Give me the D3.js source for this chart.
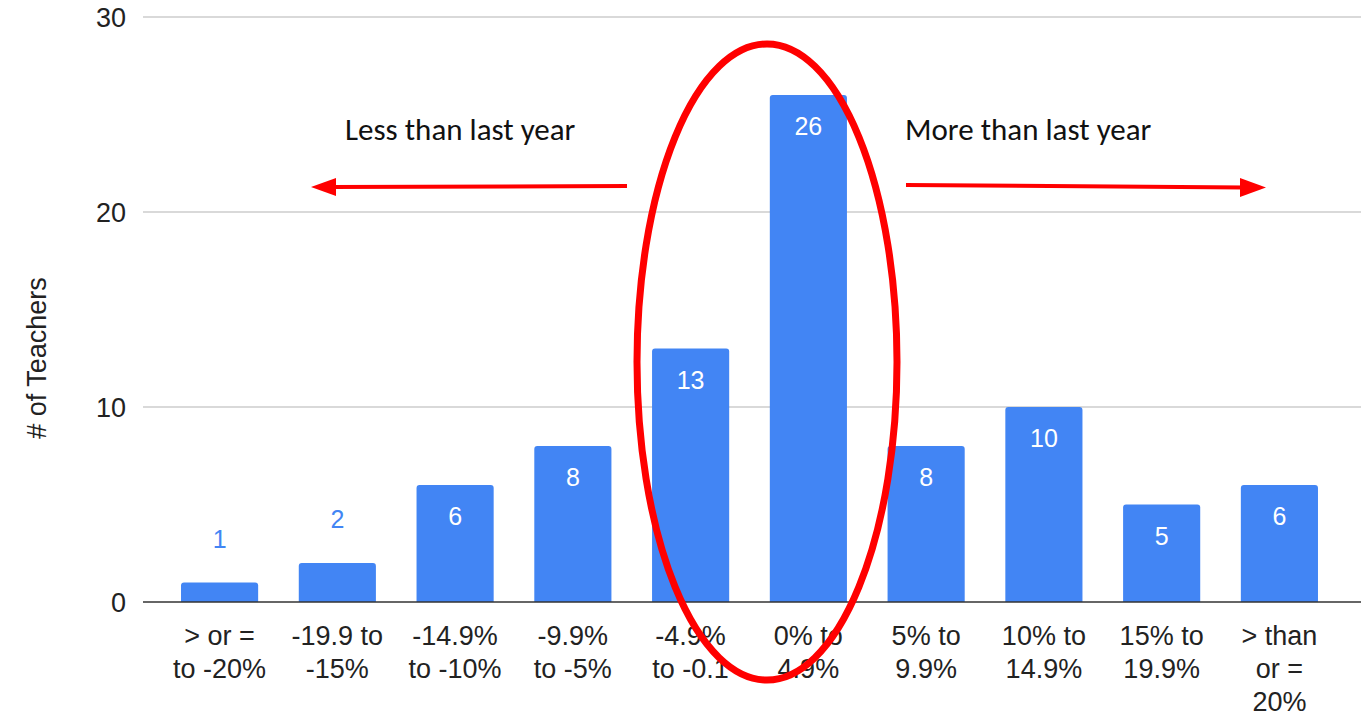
<!DOCTYPE html>
<html><head><meta charset="utf-8">
<script src="https://cdn.jsdelivr.net/npm/d3@7"></script>
<style>body{margin:0;background:#fff}</style>
</head><body>
<svg id="c" width="1361" height="716"></svg>
<script>
const categories = [["> or =","to -20%"],["-19.9 to","-15%"],["-14.9%","to -10%"],["-9.9%","to -5%"],["-4.9%","to -0.1"],["0% to","4.9%"],["5% to","9.9%"],["10% to","14.9%"],["15% to","19.9%"],["> than","or =","20%"]];
const values = [1,2,6,8,13,26,8,10,5,6];
const yTicks = [0,10,20,30];
const yTitle = "# of Teachers";
const leftNote = "Less than last year";
const rightNote = "More than last year";

const svg = d3.select("#c");
const x = d3.scaleBand().domain(d3.range(values.length)).range([161,1338]).paddingInner(0.345).paddingOuter(0.17);
const y = d3.scaleLinear().domain([0,30]).range([602,17]);
const font = "'Liberation Sans', Arial, sans-serif";

// gridlines
svg.append("g").selectAll("line").data(yTicks.filter(d=>d>0)).join("line")
  .attr("x1",143).attr("x2",1361).attr("y1",d=>y(d)).attr("y2",d=>y(d))
  .attr("stroke","#cccccc").attr("stroke-width",1.5);
svg.append("g").selectAll("text").data(yTicks).join("text")
  .attr("x",126).attr("y",d=>y(d)).attr("dy","0.36em").attr("text-anchor","end")
  .attr("font-family",font).attr("font-size",27).attr("fill","#222").text(d=>d);

// bars
const bw = x.bandwidth();
svg.append("g").selectAll("path").data(values).join("path")
  .attr("fill","#4285f4")
  .attr("d",(d,i)=>{const x0=x(i),y0=y(d),h=y(0)-y(d),r=3;
    return `M${x0},${y0+h}V${y0+r}Q${x0},${y0} ${x0+r},${y0}H${x0+bw-r}Q${x0+bw},${y0} ${x0+bw},${y0+r}V${y0+h}Z`;});
svg.append("g").selectAll("text").data(values).join("text")
  .attr("x",(d,i)=>x(i)+bw/2)
  .attr("y",d=> d>=4 ? y(d)+31 : y(d)-44)
  .attr("dy","0.36em").attr("text-anchor","middle")
  .attr("font-family",font).attr("font-size",25)
  .attr("fill",d=> d>=4 ? "#ffffff" : "#4285f4").text(d=>d);

// baseline
svg.append("line").attr("x1",143).attr("x2",1361).attr("y1",y(0)).attr("y2",y(0))
  .attr("stroke","#333").attr("stroke-width",1.5);

// x labels
const xl = svg.append("g").selectAll("text").data(categories).join("text")
  .attr("text-anchor","middle").attr("font-family",font).attr("font-size",27).attr("fill","#222");
xl.each(function(lines,i){
  d3.select(this).selectAll("tspan").data(lines).join("tspan")
    .attr("x",x(i)+bw/2).attr("y",(l,j)=>645+j*33).text(l=>l);
});

// y title
svg.append("text").attr("transform","translate(46,358) rotate(-90)")
  .attr("text-anchor","middle").attr("font-family",font).attr("font-size",27).attr("fill","#222").text(yTitle);

// annotations
const nf = "Carlito, 'Open Sans', 'Noto Sans', sans-serif";
svg.append("text").attr("x",345).attr("y",140).attr("font-family",nf).attr("font-size",31).attr("fill","#111").text(leftNote);
svg.append("text").attr("x",905).attr("y",140).attr("font-family",nf).attr("font-size",31).attr("fill","#111").text(rightNote);

svg.append("line").attr("x1",627).attr("y1",186).attr("x2",330).attr("y2",187).attr("stroke","#ff0000").attr("stroke-width",4);
svg.append("path").attr("d","M311,187 L336,178 L336,196 Z").attr("fill","#ff0000");
svg.append("line").attr("x1",906).attr("y1",185).attr("x2",1245).attr("y2",187.5).attr("stroke","#ff0000").attr("stroke-width",4);
svg.append("path").attr("d","M1266,187.5 L1240,178 L1240,197 Z").attr("fill","#ff0000");

svg.append("ellipse").attr("cx",767).attr("cy",362).attr("rx",130).attr("ry",318)
  .attr("fill","none").attr("stroke","#ff0000").attr("stroke-width",7);
</script>
</body></html>
